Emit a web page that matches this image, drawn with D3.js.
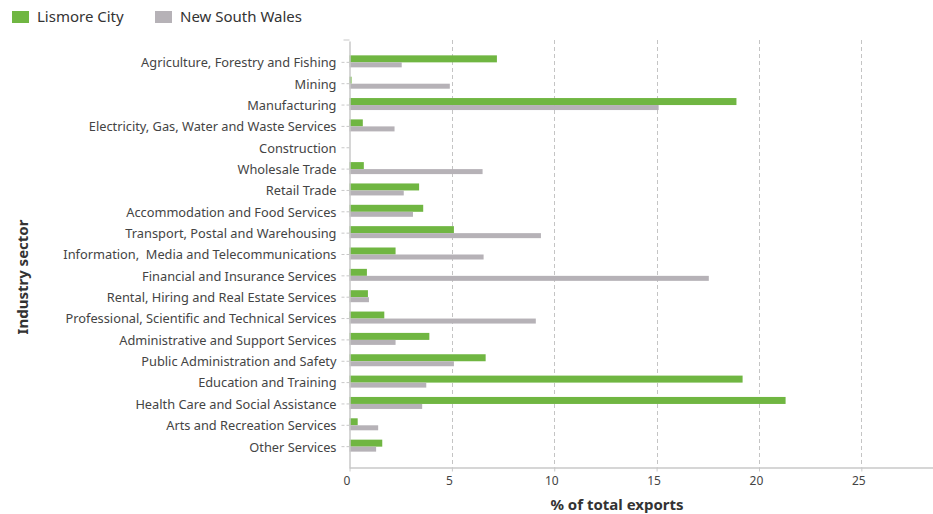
<!DOCTYPE html>
<html lang="en">
<head>
    <meta charset="UTF-8">
    <title>Exports by industry sector</title>
    <script src="https://cdn.jsdelivr.net/npm/d3@7/dist/d3.min.js"></script>
    <style>
        body { margin: 0; background: #fff; font-family: "Noto Sans", sans-serif; }
        .axis text { fill: #444; white-space: pre; }
    </style>
</head>
<body>
    <script>
        //data
        var sectors = [
            'Agriculture, Forestry and Fishing', 'Mining', 'Manufacturing',
            'Electricity, Gas, Water and Waste Services', 'Construction', 'Wholesale Trade',
            'Retail Trade', 'Accommodation and Food Services', 'Transport, Postal and Warehousing',
            'Information,  Media and Telecommunications', 'Financial and Insurance Services',
            'Rental, Hiring and Real Estate Services', 'Professional, Scientific and Technical Services',
            'Administrative and Support Services', 'Public Administration and Safety',
            'Education and Training', 'Health Care and Social Assistance',
            'Arts and Recreation Services', 'Other Services'
        ];
        var lismore = [7.2, 0.1, 18.9, 0.65, 0, 0.7, 3.4, 3.6, 5.1, 2.25, 0.85, 0.9, 1.7, 3.9, 6.65, 19.2, 21.3, 0.4, 1.6];
        var nsw = [2.55, 4.9, 15.1, 2.2, 0, 6.5, 2.65, 3.1, 9.35, 6.55, 17.55, 0.95, 9.1, 2.25, 5.1, 3.75, 3.55, 1.4, 1.3];
        var xTicks = [0, 5, 10, 15, 20, 25];
        var seriesNames = ['Lismore City', 'New South Wales'];
        var colors = ['#70b642', '#b6b2b7'];

        var w = 933;
        var h = 514;
        //note: "top" is taken by window.top, so use plotTop etc
        var plotLeft = 349.5, plotRight = 933, plotTop = 40, plotBottom = 467.5;

        var svg = d3.select('body')
                    .append('svg')
                    .attr('width', w)
                    .attr('height', h);

        var xScale = d3.scaleLinear()
                        .domain([0, 28.5])
                        .range([plotLeft, plotRight]);

        var yScale = d3.scaleBand()
                        .domain(sectors)
                        .range([plotTop + 1, plotBottom + 0.5])
                        .paddingOuter(0.5)
                        .paddingInner(0);

        //dashed gridlines
        svg.append('g')
            .selectAll('line')
            .data(xTicks.slice(1))
            .enter()
            .append('line')
            .attr('x1', function(d) { return Math.round(xScale(d)) + 0.5; })
            .attr('x2', function(d) { return Math.round(xScale(d)) + 0.5; })
            .attr('y1', plotTop)
            .attr('y2', plotBottom)
            .attr('stroke', '#c4c4c4')
            .attr('stroke-dasharray', '4,3');

        //bars - lismore above the band centre, nsw below
        var bands = svg.append('g');
        bands.selectAll('rect.lis')
            .data(lismore)
            .enter()
            .append('rect')
            .attr('class', 'lis')
            .attr('x', xScale(0))
            .attr('y', function(d, i) { return yScale(sectors[i]) + yScale.bandwidth() / 2 - 7; })
            .attr('width', function(d) { return xScale(d) - xScale(0); })
            .attr('height', 7)
            .attr('fill', colors[0]);
        bands.selectAll('rect.nsw')
            .data(nsw)
            .enter()
            .append('rect')
            .attr('class', 'nsw')
            .attr('x', xScale(0))
            .attr('y', function(d, i) { return yScale(sectors[i]) + yScale.bandwidth() / 2; })
            .attr('width', function(d) { return xScale(d) - xScale(0); })
            .attr('height', 5)
            .attr('fill', colors[1]);

        //x axis
        var xAxis = d3.axisBottom(xScale)
                        .tickValues(xTicks)
                        .tickSize(4)
                        .tickSizeOuter(0);
        var gx = svg.append('g')
            .attr('class', 'axis')
            .attr('transform', 'translate(0,' + plotBottom + ')')
            .call(xAxis);
        gx.select('.domain').attr('stroke', '#c8c8c8').attr('stroke-width', 1.5);
        gx.selectAll('.tick line').attr('stroke', '#c8c8c8');
        gx.selectAll('.tick text')
            .attr('font-size', 12)
            .attr('font-family', '"Noto Sans", sans-serif')
            .attr('dx', -3)
            .attr('dy', '0.9em');

        //y axis
        var yAxis = d3.axisLeft(yScale)
                        .tickSize(8)
                        .tickSizeOuter(0)
                        .tickPadding(5);
        var gy = svg.append('g')
            .attr('class', 'axis')
            .attr('transform', 'translate(' + plotLeft + ',0)')
            .call(yAxis);
        gy.select('.domain').attr('stroke', '#c8c8c8').attr('stroke-width', 1.5);
        gy.selectAll('.tick line').attr('stroke', '#c8c8c8').attr('stroke-dasharray', '3,2');
        gy.selectAll('.tick text')
            .attr('font-size', 12.8)
            .attr('font-family', '"Noto Sans", sans-serif')
            .attr('dy', '0.38em')
            .attr('fill', '#333');
        //small top tick
        gy.append('line')
            .attr('x1', -6).attr('x2', 0)
            .attr('y1', plotTop).attr('y2', plotTop)
            .attr('stroke', '#c8c8c8');

        //axis titles
        svg.append('text')
            .attr('x', 617)
            .attr('y', 510)
            .attr('text-anchor', 'middle')
            .attr('font-size', 15)
            .attr('font-weight', 'bold')
            .attr('fill', '#333')
            .text('% of total exports');

        svg.append('text')
            .attr('transform', 'translate(28,' + 277 + ') rotate(-90)')
            .attr('text-anchor', 'middle')
            .attr('font-size', 15)
            .attr('font-weight', 'bold')
            .attr('fill', '#333')
            .text('Industry sector');

        //legend
        var legendX = [12, 155];
        var legend = svg.append('g')
            .selectAll('g')
            .data(seriesNames)
            .enter()
            .append('g')
            .attr('transform', function(d, i) { return 'translate(' + legendX[i] + ',11)'; });
        legend.append('rect')
            .attr('width', 17)
            .attr('height', 12)
            .attr('fill', function(d, i) { return colors[i]; });
        legend.append('text')
            .attr('x', 25)
            .attr('y', 11)
            .attr('font-size', 15)
            .attr('fill', '#333')
            .text(function(d) { return d; });
    </script>
</body>
</html>
